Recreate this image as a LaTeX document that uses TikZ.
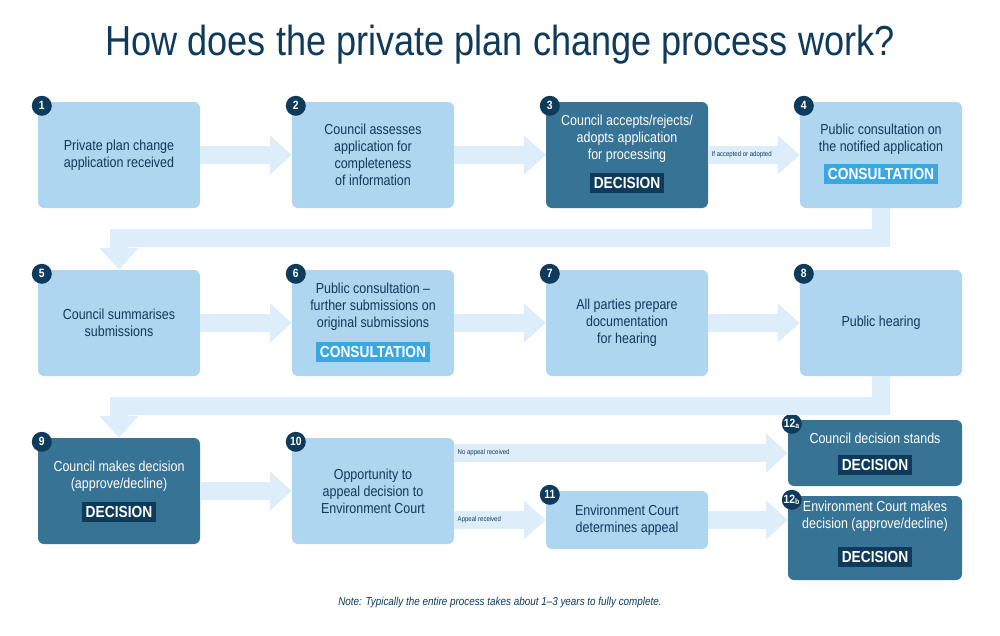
\documentclass[tikz,border=0pt]{standalone}
\usepackage{fontspec}
\setmainfont{Liberation Sans}[FakeStretch=0.86]
\usetikzlibrary{arrows.meta,positioning}
\definecolor{lightbox}{HTML}{AED6F1}
\definecolor{darkbox}{HTML}{377394}
\definecolor{navy}{HTML}{0E3A5B}
\definecolor{flow}{HTML}{DDEEFA}
\definecolor{consult}{HTML}{3BA7E0}
\tikzset{%
        every step/.style={
            rounded corners=6pt,
            minimum width=162pt,
            minimum height=106pt,
            align=center,
            text=navy,
            font=\fontsize{14.5}{17}\selectfont,
            fill=lightbox
        },
        step dark/.style={
            fill=darkbox,
            text=white
        },
        steptext/.style={
            align=center,
            font=\fontsize{14.5}{17}\selectfont
        },
        badge/.style={
            circle,
            fill=navy,
            text=white,
            inner sep=0pt,
            minimum size=20pt,
            font=\bfseries\fontsize{12}{12}\selectfont
        },
        tag/.style={
            fill=navy,
            text=white,
            inner xsep=4pt,
            inner ysep=4pt,
            font=\bfseries\fontsize{16}{16}\selectfont
        },
        consultag/.style={
            tag,
            fill=consult
        },
        flowarrow/.style={
            draw=flow,
            line width=18pt,
            -{Triangle[width=38pt,length=22pt]}
        },
        flowtext/.style={
            font=\fontsize{7}{8}\selectfont,
            text=navy,
            right
        },
    }

\begin{document}
\begin{tikzpicture}[x=1pt, y=-1pt]
        \useasboundingbox (0,0) rectangle (1000,635);

        \node [text=navy, font=\fontsize{42}{46}\selectfont] (title) at (500,45)
            {How does the private plan change process work?};

        % row 1
        \node [every step] (s1) at (119,155) {Private plan change\\application received};
        \node [every step] (s2) at (373,155) {Council assesses\\application for\\completeness\\of information};
        \node [every step, step dark] (s3) at (627,155) {};
        \node [steptext, text=white] (s3text) at (627,139)
            {Council accepts/rejects/\\adopts application\\for processing};
        \node [tag] (s3tag) at (627,183) {DECISION};
        \node [every step] (s4) at (881,155) {};
        \node [steptext, text=navy] (s4text) at (881,139)
            {Public consultation on\\the notified application};
        \node [consultag] (s4tag) at (881,174) {CONSULTATION};

        % row 2
        \node [every step] (s5) at (119,323) {Council summarises\\submissions};
        \node [every step] (s6) at (373,323) {};
        \node [steptext, text=navy] (s6text) at (373,307)
            {Public consultation --\\further submissions on\\original submissions};
        \node [consultag] (s6tag) at (373,352) {CONSULTATION};
        \node [every step] (s7) at (627,323) {All parties prepare\\documentation\\for hearing};
        \node [every step] (s8) at (881,323) {Public hearing};

        % row 3
        \node [every step, step dark] (s9) at (119,491) {};
        \node [steptext, text=white] (s9text) at (119,476)
            {Council makes decision\\(approve/decline)};
        \node [tag] (s9tag) at (119,512) {DECISION};
        \node [every step] (s10) at (373,491) {Opportunity to\\appeal decision to\\Environment Court};
        \node [every step, minimum height=58pt] (s11) at (627,520) {Environment Court\\determines appeal};
        \node [every step, step dark, minimum width=174pt, minimum height=66pt] (s12a) at (875,453) {};
        \node [steptext, text=white] (s12atext) at (875,438) {Council decision stands};
        \node [tag] (s12atag) at (875,465) {DECISION};
        \node [every step, step dark, minimum width=174pt, minimum height=84pt] (s12b) at (875,538) {};
        \node [steptext, text=white] (s12btext) at (875,516)
            {Environment Court makes\\decision (approve/decline)};
        \node [tag] (s12btag) at (875,557) {DECISION};

        % badges
        \foreach \n in {1,...,11}
            \node [badge] (b\n) at ([shift={(4,4)}]s\n.north west) {\n};
        \node [badge] (b12a) at ([shift={(4,4)}]s12a.north west) {12\textsubscript{a}};
        \node [badge] (b12b) at ([shift={(4,4)}]s12b.north west) {12\textsubscript{b}};

        % flow arrows
        \foreach \a/\b in {1/2,2/3,3/4,5/6,6/7,7/8,9/10}
            \draw [flowarrow] (s\a.east) -- (s\b.west);
        \draw [flowarrow] (s4.south) -- ++(0,30) -| (s5.north);
        \draw [flowarrow] (s8.south) -- ++(0,30) -| (s9.north);
        \draw [flowarrow] (s10.east |- s12a.west) -- (s12a.west);
        \draw [flowarrow] (s10.east |- s11.west) -- (s11.west);
        \draw [flowarrow] (s11.east) -- (s11.east -| s12b.west);

        \node [flowtext] (lab3) at (s3.east) {If accepted or adopted};
        \node [flowtext] (lab10a) at (s10.east |- s12a.west) {No appeal received};
        \node [flowtext] (lab10b) at (s10.east |- s11.west) {Appeal received};

        \node [text=navy, font=\itshape\fontsize{11.5}{13}\selectfont] (note) at (500,603)
            {Note: Typically the entire process takes about 1--3 years to fully complete.};
\end{tikzpicture}
\end{document}
